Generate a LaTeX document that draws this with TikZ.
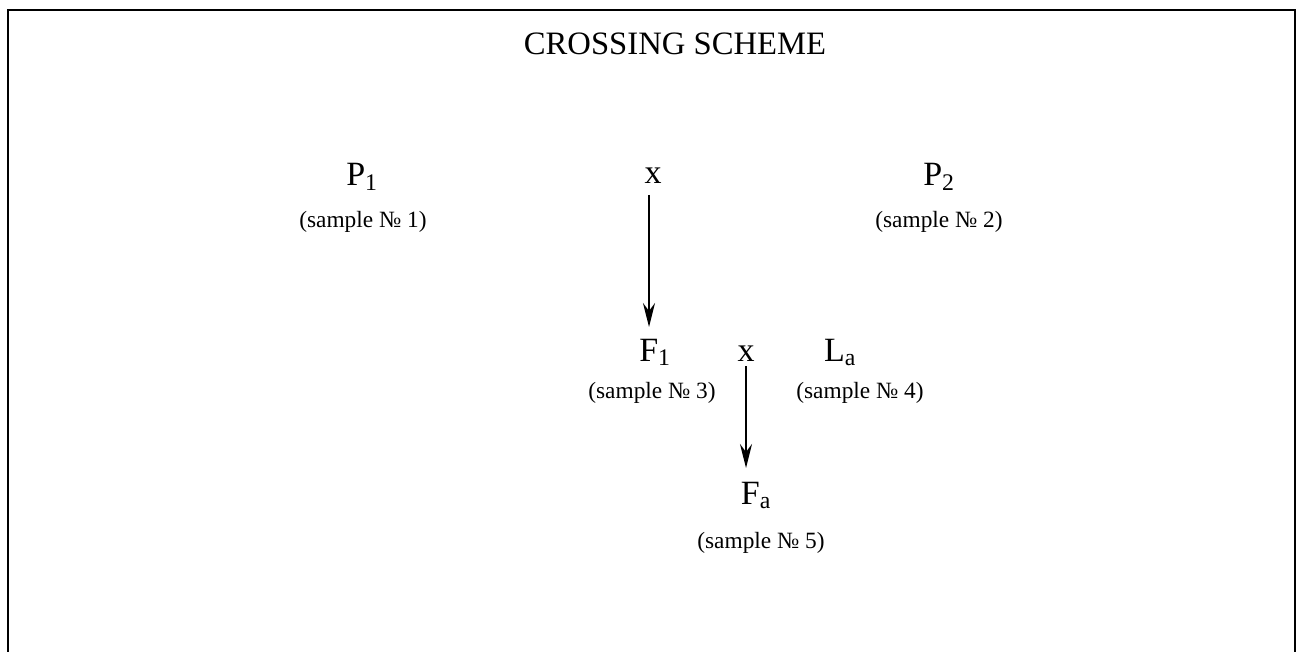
\documentclass[tikz,border=0pt]{standalone}
\usepackage{fontspec}
\setmainfont{Liberation Serif}
\usetikzlibrary{arrows.meta}
\tikzset{
  lbl/.style={inner sep=0pt, anchor=base, font=\fontsize{25.5pt}{30pt}\selectfont},
  smp/.style={inner sep=0pt, anchor=base, font=\fontsize{17.5pt}{21pt}\selectfont},
  ttl/.style={inner sep=0pt, anchor=base, font=\fontsize{24.5pt}{29pt}\selectfont},
  conn/.style={line width=1.5pt, -{Stealth[length=18pt,width=9pt,inset=6pt]}},
  frame/.style={line width=1.9pt}
}
\begin{document}
\begin{tikzpicture}[x=0.75pt,y=-0.75pt]
\useasboundingbox (0,0) rectangle (1296,652);
\draw[frame] (8,660) -- (8,10) -- (1295,10) -- (1295,660);
\node[ttl] (title) at (675,55) {CROSSING SCHEME};
\node[lbl] (p1) at (362,186) {P\textsubscript{1}};
\node[lbl] (x1) at (653,184) {x};
\node[lbl] (p2) at (939,186) {P\textsubscript{2}};
\node[smp] (s1) at (363,228) {(sample № 1)};
\node[smp] (s2) at (939,228) {(sample № 2)};
\coordinate (a1s) at (649,195);
\coordinate (a1e) at (649,327);
\draw[conn] (a1s) -- (a1e);
\node[lbl] (f1) at (655,361) {F\textsubscript{1}};
\node[lbl] (x2) at (746,361) {x};
\node[lbl] (la) at (840,361) {L\textsubscript{a}};
\node[smp] (s3) at (652,398) {(sample № 3)};
\node[smp] (s4) at (860,398) {(sample № 4)};
\coordinate (a2s) at (746,366);
\coordinate (a2e) at (746,468);
\draw[conn] (a2s) -- (a2e);
\node[lbl] (fa) at (756,504) {F\textsubscript{a}};
\node[smp] (s5) at (761,548) {(sample № 5)};
\end{tikzpicture}
\end{document}
